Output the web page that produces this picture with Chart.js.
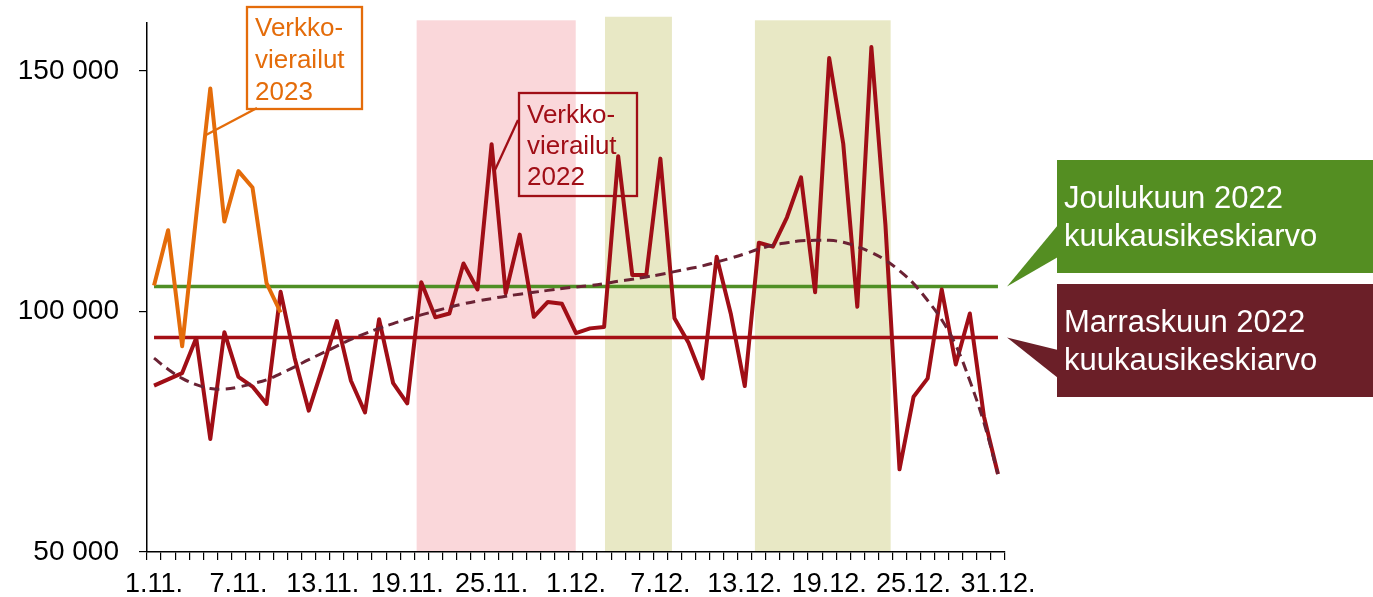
<!DOCTYPE html>
<html>
<head>
<meta charset="utf-8">
<script src="https://cdn.jsdelivr.net/npm/chart.js@4.4.0/dist/chart.umd.min.js"></script>
<style>
  html, body { margin: 0; padding: 0; background: #fff; }
  #wrap { width: 1373px; height: 597px; }
</style>
</head>
<body>
<div id="wrap"><canvas id="chart" width="1373" height="597"></canvas></div>
<script>
// categories: every day 1.11. - 31.12.
const months = [[11, 30], [12, 31]];
const days = [];
months.forEach(([m, n]) => {
  for (let d = 1; d <= n; d++) days.push(`${d}.${m}.`);
});

const visits2022 = [84600, 85900, 87200, 94500, 73500, 95700, 86400, 84400, 80800, 104100,
  90300, 79400, 88500, 98000, 85600, 79000, 98400, 85100, 80900, 106100,
  98800, 99600, 110000, 104600, 134800, 103800, 116000, 98900, 102000, 101600,
  95500, 96500, 96800, 132300, 107600, 107600, 131800, 98600, 93500, 86100,
  111400, 99600, 84500, 114300, 113500, 119600, 127900, 104000, 152700, 134900,
  101000, 155000, 118000, 67200, 82300, 86100, 104600, 89000, 99600, 78200, 66200];

const visits2023 = [105400, 116900, 92800, 119900, 146400, 118700, 129200, 125800, 105900, 99800];

const trend2022 = [90300, 88000, 86100, 84800, 84000, 83900, 84300, 85000, 85800, 87100,
  88500, 90000, 91400, 92800, 94200, 95400, 96500, 97500, 98400, 99300,
  100100, 100900, 101600, 102200, 102700, 103200, 103600, 104000, 104400, 104800,
  105100, 105400, 105800, 106300, 106700, 107200, 107700, 108300, 108900, 109500,
  110300, 111100, 112000, 113000, 113800, 114300, 114700, 114800, 114800, 114400,
  113500, 112300, 110700, 108500, 105800, 102300, 98300, 93000, 85600, 76900, 66200];

const decMean2022 = 105200;
const novMean2022 = 94600;

const yTicks = [50000, 100000, 150000];

// shaded periods, in day-index units
const bandRanges = [[18.67, 29.98], [32.06, 36.82], [42.72, 52.37]];
const bandTops = [160560, 161300, 160560];
const bandColors = ['#FAD7DA', '#E8E8C5', '#E8E8C5'];

const FONT = "'Liberation Sans', Arial, sans-serif";

const bandsPlugin = {
  id: 'bands',
  beforeDraw(chart) {
    const { ctx, scales: { x, y } } = chart;
    ctx.save();
    bandRanges.forEach((r, k) => {
      const x0 = x.getPixelForValue(r[0]);
      const x1 = x.getPixelForValue(r[1]);
      const y0 = y.getPixelForValue(bandTops[k]);
      const y1 = y.getPixelForValue(50000);
      ctx.fillStyle = bandColors[k];
      ctx.fillRect(x0, y0, x1 - x0, y1 - y0);
    });
    ctx.restore();
  }
};

function textBox(ctx, lines, left, baseline, step, color) {
  ctx.fillStyle = color;
  lines.forEach((t, i) => ctx.fillText(t, left, baseline + i * step));
}

const calloutPlugin = {
  id: 'callouts',
  afterDraw(chart) {
    const { ctx, scales: { y } } = chart;
    ctx.save();
    ctx.textBaseline = 'alphabetic';
    ctx.textAlign = 'left';

    // series labels with leader lines
    ctx.lineWidth = 2.3;
    ctx.strokeStyle = '#E46C0A';
    ctx.strokeRect(247, 7, 115, 102);
    ctx.beginPath(); ctx.moveTo(257, 108); ctx.lineTo(206, 135); ctx.stroke();
    ctx.font = `26px ${FONT}`;
    textBox(ctx, ['Verkko-', 'vierailut', '2023'], 255, 36, 32, '#E46C0A');

    ctx.strokeStyle = '#A00E16';
    ctx.strokeRect(519, 93, 118, 103);
    ctx.beginPath(); ctx.moveTo(518, 120); ctx.lineTo(495, 170); ctx.stroke();
    textBox(ctx, ['Verkko-', 'vierailut', '2022'], 527, 123, 31, '#A00E16');

    // monthly mean callouts
    const boxes = [
      { v: decMean2022, top: 160, base: [225, 257], fill: '#548E22', lines: ['Joulukuun 2022', 'kuukausikeskiarvo'] },
      { v: novMean2022, top: 284, base: [350, 378], fill: '#6B1F28', lines: ['Marraskuun 2022', 'kuukausikeskiarvo'] }
    ];
    boxes.forEach(b => {
      ctx.fillStyle = b.fill;
      ctx.fillRect(1057, b.top, 316, 113);
      ctx.beginPath();
      ctx.moveTo(1007, y.getPixelForValue(b.v));
      ctx.lineTo(1058, b.base[0]);
      ctx.lineTo(1058, b.base[1]);
      ctx.closePath();
      ctx.fill();
      ctx.font = `31px ${FONT}`;
      textBox(ctx, b.lines, 1064, b.top + 48, 38.4, '#FFFFFF');
    });
    ctx.restore();
  }
};

const ctx = document.getElementById('chart').getContext('2d');
new Chart(ctx, {
  type: 'line',
  data: {
    labels: days,
    datasets: [
      {
        label: 'Trendi',
        data: trend2022,
        borderColor: '#6B2234',
        borderWidth: 3,
        borderDash: [10, 6],
        tension: 0.4,
        pointRadius: 0,
        order: 0
      },
      {
        label: 'Verkkovierailut 2023',
        data: visits2023,
        borderColor: '#E46C0A',
        borderWidth: 4,
        borderJoinStyle: 'round',
        pointRadius: 0,
        tension: 0,
        order: 1
      },
      {
        label: 'Verkkovierailut 2022',
        data: visits2022,
        borderColor: '#A00E16',
        borderWidth: 4,
        borderJoinStyle: 'round',
        pointRadius: 0,
        tension: 0,
        order: 2
      },
      {
        label: 'Joulukuun 2022 kuukausikeskiarvo',
        data: [{ x: days[0], y: decMean2022 }, { x: days[days.length - 1], y: decMean2022 }],
        borderColor: '#4F8F25',
        borderWidth: 3.5,
        pointRadius: 0,
        order: 3
      },
      {
        label: 'Marraskuun 2022 kuukausikeskiarvo',
        data: [{ x: days[0], y: novMean2022 }, { x: days[days.length - 1], y: novMean2022 }],
        borderColor: '#A50F15',
        borderWidth: 3.5,
        pointRadius: 0,
        order: 4
      }
    ]
  },
  options: {
    responsive: false,
    animation: false,
    devicePixelRatio: 1,
    layout: { padding: { top: 23, right: 368, left: 0, bottom: 0 } },
    plugins: {
      legend: { display: false },
      tooltip: { enabled: false }
    },
    scales: {
      x: {
        type: 'category',
        offset: true,
        afterFit: (scale) => { scale.height = 45; },
        grid: {
          offset: true,
          drawOnChartArea: false,
          drawTicks: true,
          tickLength: 8,
          color: '#000',
          lineWidth: 1.2
        },
        border: { display: true, color: '#000', width: 1.5 },
        ticks: {
          autoSkip: false,
          maxRotation: 0,
          padding: 8,
          color: '#000',
          font: { family: FONT, size: 27 },
          callback: function (val, idx) {
            return idx % 6 === 0 ? this.getLabelForValue(val) : '';
          }
        }
      },
      y: {
        min: 50000,
        max: 160000,
        afterFit: (scale) => {
          scale.width = 147;
          scale.paddingTop = 0;
          scale.paddingBottom = 0;
        },
        afterBuildTicks: (scale) => { scale.ticks = yTicks.map(v => ({ value: v })); },
        grid: {
          drawOnChartArea: false,
          drawTicks: true,
          tickLength: 8,
          color: '#000',
          lineWidth: 1.2
        },
        border: { display: true, color: '#000', width: 1.5 },
        ticks: {
          padding: 20,
          color: '#000',
          font: { family: FONT, size: 28 },
          callback: (v) => String(v).replace(/\B(?=(\d{3})+(?!\d))/g, ' ')
        }
      }
    }
  },
  plugins: [bandsPlugin, calloutPlugin]
});
</script>
</body>
</html>
